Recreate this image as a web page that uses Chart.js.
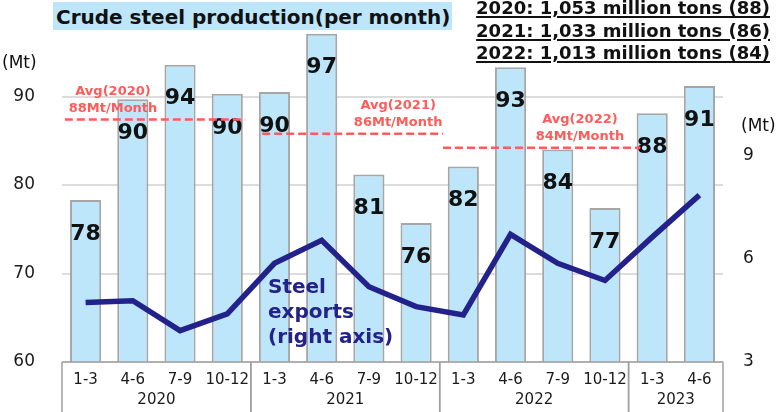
<!DOCTYPE html>
<html>
<head>
<meta charset="utf-8">
<script src="https://cdn.jsdelivr.net/npm/chart.js@4"></script>
<style>
  body { margin: 0; background: #fff; }
  #wrap { position: relative; width: 779px; height: 412px; font-family: "DejaVu Sans", Verdana, sans-serif; }
  canvas { position: absolute; left: 0; top: 0; }
  .txt { position: absolute; white-space: nowrap; color: #111; }
  #title { left: 53px; top: 2px; width: 396px; height: 28px; line-height: 30px; padding-left: 3px;
           background: #bde6fa; font-weight: bold; font-size: 20px; }
  #summary { right: 9px; top: -3px; font-weight: bold; font-size: 18px; line-height: 22.5px; text-align: left; }
  #summary div { text-decoration: underline; text-underline-offset: 2px; text-decoration-thickness: 1.5px; }
  .unit { font-size: 17px; line-height: 20px; }
  #note { left: 268px; top: 274px; font-weight: bold; font-size: 20px; line-height: 25px; color: #22228a; }
</style>
</head>
<body>
<div id="wrap">
  <canvas id="chart" width="779" height="412"></canvas>
  <div id="title" class="txt">Crude steel production(per month)</div>
  <div id="summary" class="txt"></div>
  <div class="txt unit" style="left:2px; top:52px;">(Mt)</div>
  <div class="txt unit" style="left:741px; top:115px;">(Mt)</div>
  <div id="note" class="txt">Steel<br>exports<br>(right axis)</div>
</div>
<script>
/* ===============================
   DATA
   =============================== */
const quarters = ["1-3", "4-6", "7-9", "10-12", "1-3", "4-6", "7-9", "10-12",
                  "1-3", "4-6", "7-9", "10-12", "1-3", "4-6"];
const years = ["2020", "2021", "2022", "2023"];
const yearSpans = [4, 4, 4, 2];

// crude steel production, Mt (left axis)
const production = [78.3, 89.7, 93.6, 90.3, 90.5, 97.1, 81.2, 75.7,
                    82.1, 93.3, 84.0, 77.4, 88.1, 91.2];
const productionLabels = ["78", "90", "94", "90", "90", "97", "81", "76",
                          "82", "93", "84", "77", "88", "91"];

// steel exports, Mt (right axis)
const exportsMt = [4.73, 4.78, 3.91, 4.40, 5.87, 6.54, 5.19, 4.61,
                   4.37, 6.71, 5.87, 5.37, 6.63, 7.85];

// yearly averages
const avgYears = ["2020", "2021", "2022"];
const avgValues = [87.4, 85.8, 84.2];
const avgTexts = ["88Mt/Month", "86Mt/Month", "84Mt/Month"];

const summaryLines = [
  "2020: 1,053 million tons (88)",
  "2021: 1,033 million tons (86)",
  "2022: 1,013 million tons (84)"
];

const leftTicks = [60, 70, 80, 90];
const rightTicks = [3, 6, 9];

/* ===============================
   STYLE
   =============================== */
const FONT = '"DejaVu Sans", Verdana, sans-serif';
const BAR_FILL = "#bde6fa";
const BAR_EDGE = "#a6a6a6";
const NAVY = "#22228a";
const AVG_RED = "#ff5b5b";
const BOX_GREY = "#a0a0a0";

document.getElementById("summary").innerHTML =
  summaryLines.map(s => `<div>${s}</div>`).join("");

/* ===============================
   PLUGIN: labels, averages, year row
   =============================== */
const decorations = {
  id: "decorations",
  afterDatasetsDraw(chart) {
    const { ctx, scales } = chart;
    const x = scales.x, y = scales.y;

    // bar value labels
    ctx.save();
    ctx.fillStyle = "#111";
    ctx.font = `bold 22px ${FONT}`;
    ctx.textAlign = "center";
    ctx.textBaseline = "middle";
    production.forEach((v, i) => {
      ctx.fillText(productionLabels[i], x.getPixelForValue(i), y.getPixelForValue(v) + 34);
    });
    ctx.restore();

    // average lines
    const ranges = [[-0.44, 3.38], [3.74, 7.57], [7.57, 11.75]];
    const textPos = [0.58, 6.62, 10.47];
    ctx.save();
    ctx.strokeStyle = AVG_RED;
    ctx.fillStyle = AVG_RED;
    ctx.lineWidth = 2.5;
    ctx.setLineDash([8, 4]);
    avgValues.forEach((v, i) => {
      const py = y.getPixelForValue(v);
      ctx.beginPath();
      ctx.moveTo(x.getPixelForValue(ranges[i][0]), py);
      ctx.lineTo(x.getPixelForValue(ranges[i][1]), py);
      ctx.stroke();
      ctx.font = `bold 13px ${FONT}`;
      ctx.textAlign = "center";
      ctx.textBaseline = "middle";
      const tx = x.getPixelForValue(textPos[i]);
      ctx.fillText(`Avg(${avgYears[i]})`, tx, py - 28);
      ctx.fillText(avgTexts[i], tx, py - 11);
    });
    ctx.restore();
  },
  afterDraw(chart) {
    const { ctx, scales, chartArea } = chart;
    const x = scales.x;
    const top = chartArea.bottom;
    const bottom = chart.height;

    ctx.save();
    ctx.strokeStyle = BOX_GREY;
    ctx.lineWidth = 1.5;
    ctx.beginPath();
    ctx.moveTo(chartArea.left, top);
    ctx.lineTo(chartArea.right, top);
    ctx.stroke();

    ctx.fillStyle = "#1a1a1a";
    ctx.font = `15px ${FONT}`;
    ctx.textAlign = "center";
    ctx.textBaseline = "middle";
    let start = 0;
    years.forEach((yr, i) => {
      const x0 = x.getPixelForValue(start - 0.5);
      const x1 = x.getPixelForValue(start + yearSpans[i] - 0.5);
      ctx.beginPath();
      ctx.moveTo(x0, top);
      ctx.lineTo(x0, bottom);
      ctx.moveTo(x1, top);
      ctx.lineTo(x1, bottom);
      ctx.stroke();
      ctx.fillText(yr, (x0 + x1) / 2, 400);
      start += yearSpans[i];
    });
    ctx.restore();
  }
};

// fixed axis boxes so the plot area sits where the original one does
function fixWidth(w) {
  return s => { s.width = w; s.paddingTop = 0; s.paddingBottom = 0; };
}

/* ===============================
   CHART
   =============================== */
new Chart(document.getElementById("chart"), {
  type: "bar",
  data: {
    labels: quarters,
    datasets: [
      {
        type: "line",
        label: "Steel exports",
        data: exportsMt,
        yAxisID: "y2",
        borderColor: NAVY,
        borderWidth: 5.5,
        pointRadius: 0,
        tension: 0,
        order: 0
      },
      {
        label: "Crude steel production",
        data: production,
        yAxisID: "y",
        backgroundColor: BAR_FILL,
        borderColor: BAR_EDGE,
        borderWidth: 2,
        categoryPercentage: 1,
        barPercentage: 0.66,
        order: 1
      }
    ]
  },
  options: {
    responsive: false,
    animation: false,
    devicePixelRatio: 1,
    layout: { padding: { top: 8, left: 0, right: 0, bottom: 0 } },
    plugins: { legend: { display: false }, tooltip: { enabled: false } },
    scales: {
      x: {
        grid: { display: false, drawTicks: false },
        border: { display: false },
        ticks: { color: "#1a1a1a", font: { family: FONT, size: 15 }, padding: 9, maxRotation: 0, autoSkip: false },
        afterFit: s => { s.height = 50; s.paddingLeft = 0; s.paddingRight = 0; }
      },
      y: {
        position: "left",
        min: 60,
        max: 100,
        border: { display: false },
        grid: { color: "#dcdcdc", lineWidth: 2, drawTicks: false },
        ticks: { color: "#1a1a1a", font: { family: FONT, size: 17 }, padding: 27 },
        afterBuildTicks: s => { s.ticks = leftTicks.map(v => ({ value: v })); },
        afterFit: fixWidth(62)
      },
      y2: {
        position: "right",
        min: 3,
        max: 13.29,
        border: { display: false },
        grid: { display: false, drawTicks: false },
        ticks: { color: "#1a1a1a", font: { family: FONT, size: 17 }, padding: 20 },
        afterBuildTicks: s => { s.ticks = rightTicks.map(v => ({ value: v })); },
        afterFit: fixWidth(56)
      }
    }
  },
  plugins: [decorations]
});
</script>
</body>
</html>
